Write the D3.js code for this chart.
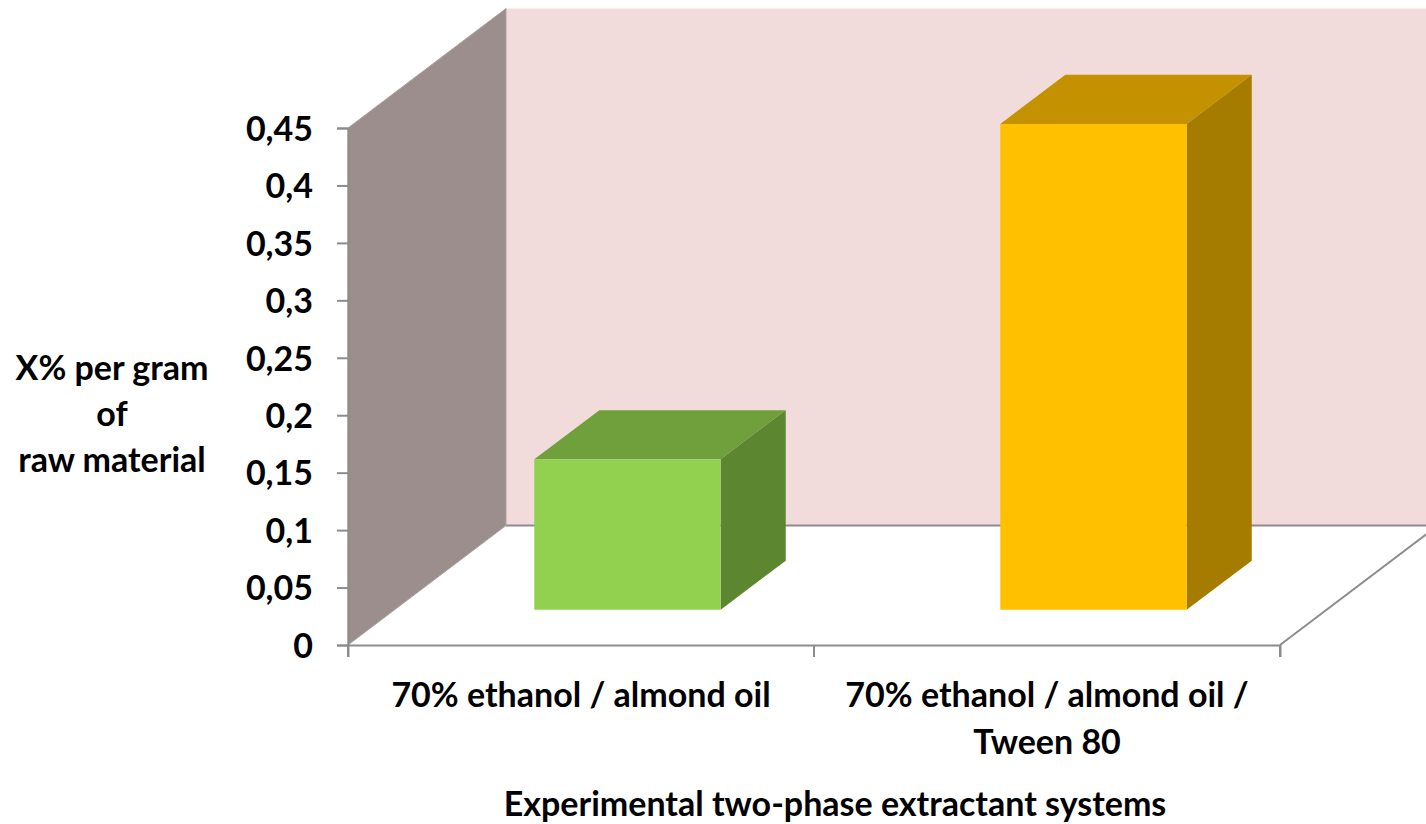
<!DOCTYPE html>
<html>
<head>
<meta charset="utf-8">
<script src="https://cdn.jsdelivr.net/npm/d3@7/dist/d3.min.js"></script>
<style>
  html, body { margin: 0; padding: 0; background: #ffffff; }
  svg { display: block; }
  text { font-family: Lato, "Open Sans", sans-serif; font-weight: 700; fill: #000; }
</style>
</head>
<body>
<svg id="chart" width="1426" height="824"></svg>
<script>
// Extraction yield for each two-phase extractant system
const categories = [
  ["70% ethanol / almond oil"],
  ["70% ethanol / almond oil /", "Tween 80"]
];
const values = [0.131, 0.423];
const frontColors = ["#92d050", "#ffc000"];
const topColors   = ["#70a03c", "#c49200"];
const sideColors  = ["#5d8631", "#a67c00"];
const yTicks = [0, 0.05, 0.1, 0.15, 0.2, 0.25, 0.3, 0.35, 0.4, 0.45];
const yTickLabels = ["0", "0,05", "0,1", "0,15", "0,2", "0,25", "0,3", "0,35", "0,4", "0,45"];
const yTitle = ["X% per gram", "of", "raw material"];
const xTitle = "Experimental two-phase extractant systems";

const svg = d3.select("#chart");
const fontSize = 34;

// Front plane of the 3D box
const x0 = 348, x1 = 1280, yBottom = 645, yTop = 128;
// Depth direction (oblique projection)
const depthDX = 158, depthDY = -119.5;
const barFrontZ = 0.294, barBackZ = 0.706;

const x = d3.scaleBand()
  .domain(d3.range(categories.length))
  .range([x0, x1])
  .paddingInner(0.6)
  .paddingOuter(0.3);
const xCat = d3.scaleBand().domain(d3.range(categories.length)).range([x0, x1]);
const y = d3.scaleLinear().domain([0, 0.45]).range([yBottom, yTop]);

// project (px on front plane, value, depth fraction) -> screen
const P = (px, v, z) => [px + depthDX * z, y(v) + depthDY * z];
const poly = pts => pts.map(p => p.join(",")).join(" ");

const grid = "#8c8c8c";
const vMax = 0.45;

// Back wall
const wallG = svg.append("g");
wallG.append("polygon")
  .attr("points", poly([P(x0, 0, 1), P(x1, 0, 1), P(x1, vMax, 1), P(x0, vMax, 1)]))
  .attr("fill", "#f2dcdb");
// Side wall
wallG.append("polygon")
  .attr("points", poly([P(x0, 0, 0), P(x0, 0, 1), P(x0, vMax, 1), P(x0, vMax, 0)]))
  .attr("fill", "#9b8e8c")
  .attr("stroke", "#a9a3a2").attr("stroke-width", 1);
// Floor edges
wallG.append("line")
  .attr("x1", P(x0, 0, 1)[0]).attr("y1", P(x0, 0, 1)[1])
  .attr("x2", P(x1, 0, 1)[0]).attr("y2", P(x1, 0, 1)[1])
  .attr("stroke", grid).attr("stroke-width", 2);
wallG.append("line")
  .attr("x1", P(x1, 0, 0)[0]).attr("y1", P(x1, 0, 0)[1])
  .attr("x2", P(x1, 0, 1)[0]).attr("y2", P(x1, 0, 1)[1])
  .attr("stroke", grid).attr("stroke-width", 2);

// Bars
const bars = svg.append("g").selectAll("g").data(values).join("g");
bars.each(function (v, i) {
  const g = d3.select(this);
  const l = x(i), r = x(i) + x.bandwidth();
  g.append("polygon")
    .attr("points", poly([P(l, v, barFrontZ), P(r, v, barFrontZ), P(r, v, barBackZ), P(l, v, barBackZ)]))
    .attr("fill", topColors[i]);
  g.append("polygon")
    .attr("points", poly([P(r, 0, barFrontZ), P(r, v, barFrontZ), P(r, v, barBackZ), P(r, 0, barBackZ)]))
    .attr("fill", sideColors[i]);
  g.append("polygon")
    .attr("points", poly([P(l, 0, barFrontZ), P(r, 0, barFrontZ), P(r, v, barFrontZ), P(l, v, barFrontZ)]))
    .attr("fill", frontColors[i]);
});

// Value axis
const yAxis = svg.append("g")
  .attr("transform", `translate(${x0},0)`)
  .call(d3.axisLeft(y).tickValues(yTicks).tickSize(11).tickPadding(24)
    .tickFormat((d, i) => yTickLabels[i]));
yAxis.select(".domain").attr("stroke", grid).attr("stroke-width", 2);
yAxis.selectAll(".tick line").attr("stroke", grid).attr("stroke-width", 2);
yAxis.selectAll(".tick text")
  .attr("font-size", fontSize).attr("font-family", "Lato, sans-serif").attr("font-weight", 700)
  .attr("dy", "0.36em").attr("fill", "#000");

// Category axis on the front floor edge
const xAxis = svg.append("g")
  .attr("transform", `translate(0,${yBottom})`)
  .call(d3.axisBottom(xCat).tickSize(12).tickFormat(""));
xAxis.select(".domain").attr("stroke", grid).attr("stroke-width", 2);
xAxis.selectAll(".tick line").remove();
const edges = d3.range(categories.length + 1).map(i => x0 + i * xCat.step());
xAxis.selectAll("line.edge").data(edges).join("line")
  .attr("class", "edge")
  .attr("x1", d => d).attr("x2", d => d).attr("y1", 0).attr("y2", 12)
  .attr("stroke", grid).attr("stroke-width", 2);

// Category labels
const catLabels = svg.append("g").selectAll("text").data(categories).join("text")
  .attr("x", (d, i) => xCat(i) + xCat.bandwidth() / 2)
  .attr("y", 707)
  .attr("text-anchor", "middle")
  .attr("font-size", fontSize);
catLabels.selectAll("tspan").data(d => d).join("tspan")
  .attr("x", function () { return d3.select(this.parentNode).attr("x"); })
  .attr("dy", (d, i) => i === 0 ? 0 : 47)
  .text(d => d);

// Axis titles
svg.append("text")
  .attr("x", 835).attr("y", 816)
  .attr("text-anchor", "middle")
  .attr("font-size", fontSize)
  .text(xTitle);

svg.append("text")
  .attr("x", 112).attr("y", 380)
  .attr("text-anchor", "middle")
  .attr("font-size", fontSize)
  .selectAll("tspan").data(yTitle).join("tspan")
  .attr("x", 112)
  .attr("dy", (d, i) => i === 0 ? 0 : 46)
  .text(d => d);
</script>
</body>
</html>
